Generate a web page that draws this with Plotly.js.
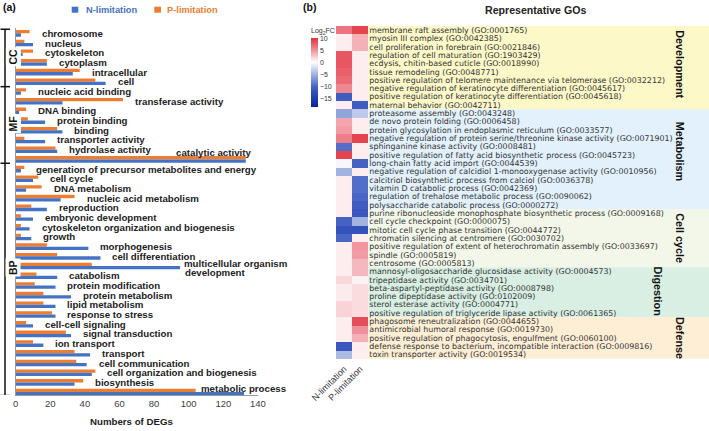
<!DOCTYPE html>
<html>
<head>
<meta charset="utf-8">
<script src="https://cdn.plot.ly/plotly-3.0.1.min.js"></script>
<style>html,body{margin:0;padding:0;background:#fff;}#chart{width:709px;height:431px;}</style>
</head>
<body>
<div id="chart"></div>
<script>
// ---------- Panel (a) data ----------
const categoriesA = [
  'chromosome','nucleus','cytoskeleton','cytoplasm','intracellular','cell',
  'nucleic acid binding','transferase activity','DNA binding','protein binding','binding','transporter activity','hydrolase activity','catalytic activity',
  'generation of precursor metabolites and energy','cell cycle','DNA metabolism','nucleic acid metabolism','reproduction','embryonic development',
  'cytoskeleton organization and biogenesis','growth','morphogenesis','cell differentiation','multicellular organism development',
  'catabolism','protein modification','protein metabolism','lipid metabolism','response to stress','cell-cell signaling',
  'signal transduction','ion transport','transport','cell communication','cell organization and biogenesis','biosynthesis','metabolic process'
];
const nLimitation = [3,10,4,18,33,52, 3,27,2,17,27,17,24,133, 3,10,6,26,18,10,8,9,42,49,95, 24,23,32,23,23,10,32,16,43,41,44,34,132];
const pLimitation = [8,5,10,18,37,46, 6,62,6,7,24,5,23,133, 5,13,15,34,9,3,3,3,18,24,44, 12,11,16,16,21,6,29,10,34,35,46,39,104];
const groupNamesA = ['CC','MF','BP'];
const groupSizesA = [6,8,24];
const seriesNames = ['N-limitation','P-limitation'];

// ---------- Panel (b) data ----------
const goTerms = [
  'membrane raft assembly (GO:0001765)',
  'myosin III complex (GO:0042385)',
  'cell proliferation in forebrain (GO:0021846)',
  'regulation of cell maturation (GO:1903429)',
  'ecdysis, chitin-based cuticle (GO:0018990)',
  'tissue remodeling (GO:0048771)',
  'positive regulation of telomere maintenance via telomerase (GO:0032212)',
  'negative regulation of keratinocyte differentiation (GO:0045617)',
  'positive regulation of keratinocyte differentiation (GO:0045618)',
  'maternal behavior (GO:0042711)',
  'proteasome assembly (GO:0043248)',
  'de novo protein folding (GO:0006458)',
  'protein glycosylation in endoplasmic reticulum (GO:0033577)',
  'negative regulation of protein serine/threonine kinase activity (GO:0071901)',
  'sphinganine kinase activity (GO:0008481)',
  'positive regulation of fatty acid biosynthetic process (GO:0045723)',
  'long-chain fatty acid import (GO:0044539)',
  'negative regulation of calcidiol 1-monooxygenase activity (GO:0010956)',
  'calcitriol biosynthetic process from calciol (GO:0036378)',
  'vitamin D catabolic process (GO:0042369)',
  'regulation of trehalose metabolic process (GO:0090062)',
  'polysaccharide catabolic process (GO:0000272)',
  'purine ribonucleoside monophosphate biosynthetic process (GO:0009168)',
  'cell cycle checkpoint (GO:0000075)',
  'mitotic cell cycle phase transition (GO:0044772)',
  'chromatin silencing at centromere (GO:0030702)',
  'positive regulation of extent of heterochromatin assembly (GO:0033697)',
  'spindle (GO:0005819)',
  'centrosome (GO:0005813)',
  'mannosyl-oligosaccharide glucosidase activity (GO:0004573)',
  'tripeptidase activity (GO:0034701)',
  'beta-aspartyl-peptidase activity (GO:0008798)',
  'proline dipeptidase activity (GO:0102009)',
  'sterol esterase activity (GO:0004771)',
  'positive regulation of triglyceride lipase activity (GO:0061365)',
  'phagosome reneutralization (GO:0044655)',
  'antimicrobial humoral response (GO:0019730)',
  'positive regulation of phagocytosis, engulfment (GO:0060100)',
  'defense response to bacterium, incompatible interaction (GO:0009816)',
  'toxin transporter activity (GO:0019534)'
];
const nFC = [6.5,0.8,0.8,8,8,7.5,7,5.5,-11,0.8, -6,4,4.5,6,-9.5,9,-0.5,-5,0.8,0.8,0.8,0.8, 0.8,-10.5,-12,-10,0.8,0.8,0.8, 0.8,1.8,0.9,0.9,2,2, 0.8,0.8,0.8,-11.5,-4.5];
const pFC = [9,3.5,3.5,0.8,0.8,0.8,0.8,0.8,0.8,-11, -3.5,0.8,0.8,9,0.8,0.8,-10.5,0.8,-9.5,-9.5,-10,-11, -11.5,-5,-12,0.8,4.8,4.5,3.2, 3.2,0.6,1.6,1.6,1.6,1.6, 8.5,5,3.5,0.8,0.8];
const goGroupNames = ['Development','Metabolism','Cell cycle','Digestion','Defense'];
const goGroupSizes = [10,12,7,6,5];
const heatColumns = ['N-limitation','P-limitation'];

// ---------- styles / layout constants ----------
const W = 709, H = 431;
const px = v => v / W;
const py = v => 1 - v / H;
const FONT = 'Liberation Sans, Arial, sans-serif';
const FONT_GO = 'DejaVu Sans, Liberation Sans, Arial, sans-serif';
const BLUE = '#4472c4', ORANGE = '#ed7d31';
const groupColors = ['#fcf8c8','#e2f1fb','#f2f7e9','#d9efe3','#fdeed5'];

const idx = categoriesA.map((_, i) => i);
const traces = [];
traces.push({type:'bar', orientation:'h', name:seriesNames[1], x:pLimitation, y:idx, marker:{color:ORANGE}, xaxis:'x', yaxis:'y', showlegend:false, hovertext:categoriesA});
traces.push({type:'bar', orientation:'h', name:seriesNames[0], x:nLimitation, y:idx, marker:{color:BLUE}, xaxis:'x', yaxis:'y', showlegend:false, hovertext:categoriesA});

const z = goTerms.map((_, i) => [nFC[i], pFC[i]]);
const zmin = -18.5, zmax = 10;
traces.push({
  type:'heatmap', x:heatColumns, y:goTerms, z:z, xaxis:'x2', yaxis:'y2', zmin:zmin, zmax:zmax,
  colorscale:[[0,'#0a2196'],[0.228,'#3452bb'],[0.298,'#4a66c4'],[0.474,'#a3b3e1'],[0.649,'#ffffff'],[0.825,'#f0909a'],[1,'#e2303e']],
  colorbar:{x:px(311), xanchor:'left', xpad:0, y:py(25), yanchor:'top', ypad:0, len:82, lenmode:'pixels', thickness:6.5,
    outlinewidth:0, tickvals:[10,5,0,-5,-10,-15], ticks:'', tickfont:{size:7, family:FONT, color:'#333'},
    title:{text:'Log<sub>2</sub>FC', side:'top', font:{size:7, family:FONT, color:'#333'}}}
});

const annotations = [];
const shapes = [];

// bar labels
const labelOverrides = {
  'catalytic activity': (n,p)=>[{x:137, xanchor:'right', xshift:0, yshift:7}],
  'multicellular organism development': (n,p)=>[
    {text:'<b>multicellular organism</b>', xshift:2, yshift:2.4},
    {text:'<b>development</b>', xshift:2.5, yshift:-6.9}],
  'metabolic process': (n,p)=>[{x:p, xshift:3, yshift:4}]
};
categoriesA.forEach((c, i) => {
  const m = Math.max(nLimitation[i], pLimitation[i]);
  const base = {x:m, y:i, xref:'x', yref:'y', text:'<b>'+c+'</b>', xanchor:'left', yanchor:'middle', xshift:10, showarrow:false,
    font:{size:9.7, family:FONT, color:'#222'}};
  const ovs = labelOverrides[c] ? labelOverrides[c](nLimitation[i], pLimitation[i]) : [{}];
  ovs.forEach(o => annotations.push(Object.assign({}, base, o)));
});

// bracket for CC / MF / BP
const bx = px(5);
const bTop = -0.42, bBottom = 37.36;
shapes.push({type:'line', xref:'paper', yref:'y', x0:bx, x1:bx, y0:bTop, y1:bBottom, line:{color:'#111', width:1.5}});
let start = 0;
const bounds = [bTop];
const labelCenters = [2.4, 9.3, 24.2];
groupSizesA.forEach((s, g) => {
  start += s;
  bounds.push(g === groupSizesA.length - 1 ? bBottom : (g === 1 ? start - 0.6 : start - 0.5));
});
bounds.forEach(b => shapes.push({type:'line', xref:'paper', yref:'y', x0:px(0.5), x1:px(10), y0:b, y1:b, line:{color:'#111', width:1.5}}));
groupNamesA.forEach((g, k) => annotations.push({x:bx, y:labelCenters[k], xref:'paper', yref:'y', text:'<b>'+g+'</b>', textangle:-90,
  showarrow:false, bgcolor:'#ffffff', borderpad:1, font:{size:10.5, family:FONT, color:'#111'}}));

// legend (a)
shapes.push({type:'rect', xref:'paper', yref:'paper', x0:px(71.7), x1:px(78.3), y0:py(12.7), y1:py(6.7), fillcolor:BLUE, line:{width:0}});
shapes.push({type:'rect', xref:'paper', yref:'paper', x0:px(154.3), x1:px(161), y0:py(12.7), y1:py(6.7), fillcolor:ORANGE, line:{width:0}});
annotations.push({x:px(84), y:py(9.5), xref:'paper', yref:'paper', xanchor:'left', yanchor:'middle', showarrow:false, text:'<b>'+seriesNames[0]+'</b>', font:{size:9.3, family:FONT, color:BLUE}});
annotations.push({x:px(165), y:py(9.5), xref:'paper', yref:'paper', xanchor:'left', yanchor:'middle', showarrow:false, text:'<b>'+seriesNames[1]+'</b>', font:{size:9.3, family:FONT, color:ORANGE}});

// panel titles
annotations.push({x:px(1), y:py(7), xref:'paper', yref:'paper', xanchor:'left', yanchor:'middle', showarrow:false, text:'<b>(a)</b>', font:{size:10.5, family:FONT, color:'#111'}});
annotations.push({x:px(301), y:py(7), xref:'paper', yref:'paper', xanchor:'left', yanchor:'middle', showarrow:false, text:'<b>(b)</b>', font:{size:10.5, family:FONT, color:'#111'}});
annotations.push({x:px(131.7), y:py(421), xref:'paper', yref:'paper', xanchor:'center', yanchor:'middle', showarrow:false, text:'<b>Numbers of DEGs</b>', font:{size:9.7, family:FONT, color:'#222'}});
annotations.push({x:px(535.5), y:py(10), xref:'paper', yref:'paper', xanchor:'center', yanchor:'middle', showarrow:false, text:'<b>Representative GOs</b>', font:{size:10.6, family:FONT, color:'#222'}});

// group bands and labels (b)
const groupLabelX = [688, 688, 688, 666, 688];
const groupLabelShift = [-0.4, -1, 0, -0.2, 0];
let gs = 0;
goGroupNames.forEach((g, k) => {
  const y0 = gs - 0.5, y1 = gs + goGroupSizes[k] - 0.5;
  shapes.push({type:'rect', layer:'below', xref:'paper', yref:'y2', x0:px(368.3), x1:1, y0:y0, y1:y1, fillcolor:groupColors[k], line:{width:0}});
  annotations.push({x:px(groupLabelX[k]), y:(y0 + y1) / 2 + groupLabelShift[k], xref:'paper', yref:'y2', textangle:90, showarrow:false,
    text:'<b>'+g+'</b>', font:{size:10.8, family:FONT, color:'#111'}});
  gs += goGroupSizes[k];
});

const layout = {
  width:W, height:H, margin:{l:0, r:0, t:0, b:0}, paper_bgcolor:'#fff', plot_bgcolor:'rgba(0,0,0,0)',
  barmode:'group', bargap:0.32, bargroupgap:0, showlegend:false,
  font:{family:FONT},
  xaxis:{domain:[px(15.7), px(257.9)], range:[0,140], anchor:'y', showgrid:false, zeroline:false, showline:true, linecolor:'#999', linewidth:1,
    ticks:'', tickvals:[0,20,40,60,80,100,120,140], tickfont:{size:9.5, family:FONT, color:'#404040'}},
  yaxis:{domain:[py(395), py(28)], range:[37.3, -0.55], anchor:'x', showgrid:false, zeroline:false, showline:true, linecolor:'#999', linewidth:1,
    showticklabels:false, ticks:''},
  xaxis2:{domain:[px(336), px(368.3)], anchor:'y2', type:'category', tickmode:'array', tickvals:heatColumns, ticktext:heatColumns,
    tickangle:-45, ticks:'', showgrid:false, zeroline:false, showline:false, tickfont:{size:9, family:FONT, color:'#333'}},
  yaxis2:{domain:[py(361), py(26)], anchor:'x2', type:'category', side:'right', autorange:'reversed', tickmode:'array', tickvals:goTerms, ticktext:goTerms,
    ticks:'', showgrid:false, zeroline:false, showline:false, tickfont:{size:7.9, family:FONT_GO, color:'#333'}},
  shapes:shapes, annotations:annotations
};

Plotly.newPlot('chart', traces, layout, {displayModeBar:false, staticPlot:true});
</script>
</body>
</html>
